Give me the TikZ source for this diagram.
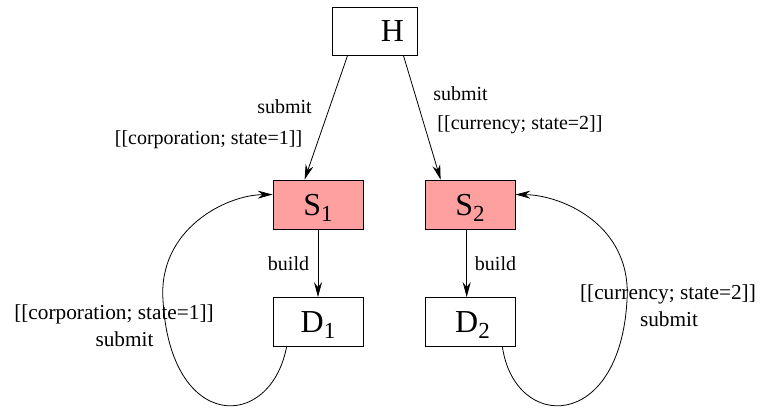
\documentclass[tikz,border=0pt]{standalone}
\usepackage{fontspec}
\setmainfont{Liberation Serif}
\usetikzlibrary{arrows.meta}
\definecolor{statefill}{RGB}{255,160,160}
\tikzset{
  box/.style={draw=black, line width=0.8pt, minimum width=90pt, minimum height=49pt,
    inner sep=0pt, text height=21pt, text depth=0pt, font=\fontsize{32}{36}\selectfont},
  hot/.style={box, fill=statefill},
  lbl/.style={inner sep=0pt, anchor=base, font=\fontsize{20}{24}\selectfont},
  biglbl/.style={lbl, font=\fontsize{21.3}{25}\selectfont},
  conn/.style={line width=0.8pt, -{Stealth[length=15pt, width=8pt, inset=5pt]}},
}
\newcommand{\lowsub}[1]{\raisebox{-6pt}{\fontsize{23}{26}\selectfont #1}}
\begin{document}
\begin{tikzpicture}[x=1pt, y=-1pt]
  \useasboundingbox (0,0) rectangle (760,408);

  % state boxes
  \node[box, minimum width=85pt, minimum height=48pt] (H) at (374.5,31) {};
  \node[inner sep=0pt, font=\fontsize{32}{36}\selectfont] (Htext) at (392.5,31.5) {H};
  \node[hot] (S1) at (318,204.5) {S\lowsub{1}};
  \node[hot] (S2) at (470,204.5) {S\lowsub{2}};
  \node[box] (D1) at (318,322) {D\lowsub{1}};
  \node[box] (D2) at (470,322) {\hspace{5pt}D\lowsub{2}};

  % submissions from H
  \draw[conn] ([xshift=16pt]H.south west) -- ([xshift=32pt]S1.north west);
  \draw[conn] ([xshift=-14pt]H.south east) -- ([xshift=16pt]S2.north west);

  % build steps
  \draw[conn] (S1.south) -- (D1.north);
  \draw[conn] ([xshift=-3.3pt]S2.south) -- ([xshift=-3.3pt]D2.north);

  % resubmission loops
  \draw[conn] ([xshift=14pt]D1.south west)
      .. controls (270,432) and (170,432) .. (163,300)
      .. controls (158,230) and (225,195) .. ([yshift=10pt]S1.west);
  \draw[conn] ([xshift=-13pt]D2.south east)
      .. controls (515,432) and (620,432) .. (627,300)
      .. controls (632,225) and (562,195) .. ([yshift=10pt]S2.east);

  % labels
  \node[lbl] (l1) at (284.5,113) {submit};
  \node[lbl] (l2) at (208.5,144) {[[corporation; state=1]]};
  \node[lbl] (l3) at (460.5,100) {submit};
  \node[lbl] (l4) at (520,129) {[[currency; state=2]]};
  \node[lbl] (l5) at (288.5,270) {build};
  \node[lbl] (l6) at (495.5,270) {build};
  \node[biglbl] (l7) at (114,319) {[[corporation; state=1]]};
  \node[biglbl] (l8) at (124.5,346) {submit};
  \node[biglbl] (l9) at (668,299) {[[currency; state=2]]};
  \node[biglbl] (l10) at (669,326) {submit};
\end{tikzpicture}
\end{document}
